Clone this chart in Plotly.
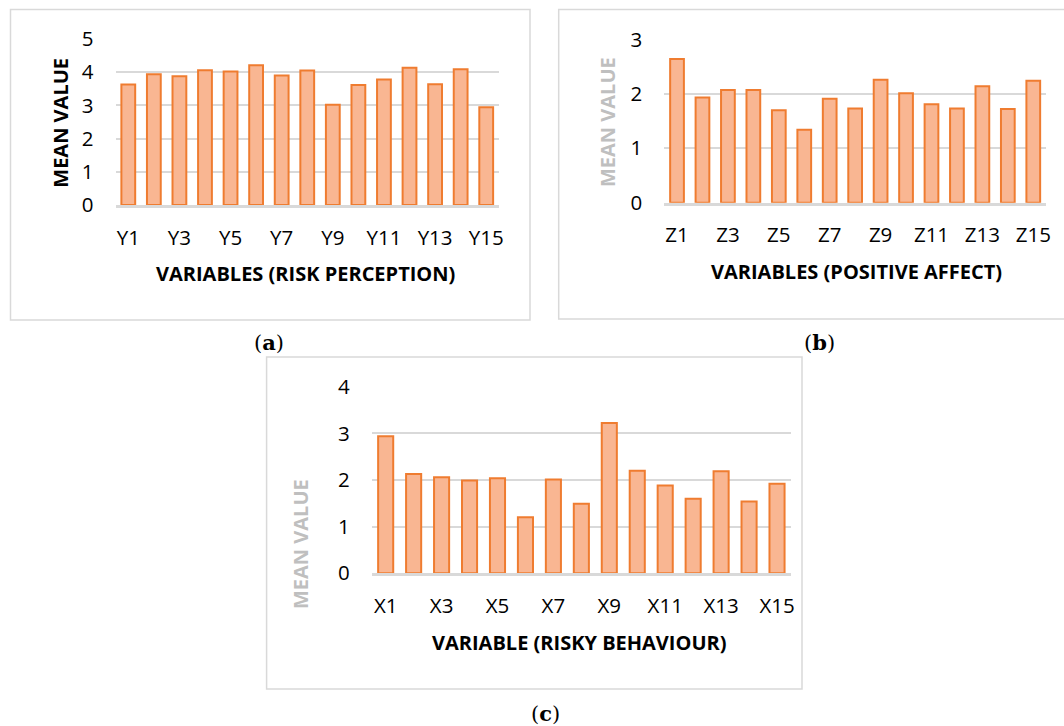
import plotly.graph_objects as go

# ---------------- data ----------------
risk_vars = ["Y1", "Y2", "Y3", "Y4", "Y5", "Y6", "Y7", "Y8", "Y9", "Y10", "Y11", "Y12", "Y13", "Y14", "Y15"]
risk_means = [3.63, 3.94, 3.88, 4.06, 4.02, 4.21, 3.90, 4.05, 3.02, 3.61, 3.78, 4.13, 3.64, 4.09, 2.94]
risk_ticks = ["Y1", "Y3", "Y5", "Y7", "Y9", "Y11", "Y13", "Y15"]

affect_vars = ["Z1", "Z2", "Z3", "Z4", "Z5", "Z6", "Z7", "Z8", "Z9", "Z10", "Z11", "Z12", "Z13", "Z14", "Z15"]
affect_means = [2.64, 1.93, 2.07, 2.07, 1.70, 1.34, 1.91, 1.73, 2.26, 2.01, 1.81, 1.73, 2.14, 1.72, 2.24]
affect_ticks = ["Z1", "Z3", "Z5", "Z7", "Z9", "Z11", "Z13", "Z15"]

behav_vars = ["X1", "X2", "X3", "X4", "X5", "X6", "X7", "X8", "X9", "X10", "X11", "X12", "X13", "X14", "X15"]
behav_means = [2.94, 2.13, 2.06, 1.99, 2.04, 1.20, 2.01, 1.49, 3.22, 2.20, 1.88, 1.60, 2.19, 1.54, 1.92]
behav_ticks = ["X1", "X3", "X5", "X7", "X9", "X11", "X13", "X15"]

# ---------------- style ----------------
W, H = 1064, 726
FILL = "#f9b692"
EDGE = "#ef7c30"
GRID = "#d9d9d9"
FONT = "Open Sans"
TICK_SIZE = 20.5
TITLE_SIZE = 20


def fx(x):
    return x / W


def fy(y):
    return 1 - y / H


fig = go.Figure()
for vars_, means, xa, ya in [
    (risk_vars, risk_means, "x", "y"),
    (affect_vars, affect_means, "x2", "y2"),
    (behav_vars, behav_means, "x3", "y3"),
]:
    fig.add_trace(go.Bar(
        x=vars_, y=means, xaxis=xa, yaxis=ya,
        marker=dict(color=FILL, line=dict(color=EDGE, width=2)),
        hoverinfo="x+y", showlegend=False,
    ))


def xaxis(dom, anchor, ticks):
    return dict(
        domain=[fx(dom[0]), fx(dom[1])], anchor=anchor, type="category",
        tickmode="array", tickvals=ticks, ticktext=ticks,
        showgrid=False, zeroline=False,
        showline=True, linecolor=GRID, linewidth=3,
        ticks="", ticklabelstandoff=12,
        tickfont=dict(family=FONT, size=TICK_SIZE, color="#000000"),
    )


def yaxis(dom, anchor, top):
    return dict(
        domain=[fy(dom[1]), fy(dom[0])], anchor=anchor,
        range=[0, top * 1.004], tick0=0, dtick=1,
        showgrid=True, gridcolor=GRID, gridwidth=1.5,
        zeroline=False, showline=False, ticks="", ticklabelstandoff=21,
        tickfont=dict(family=FONT, size=TICK_SIZE, color="#000000"),
    )


fig.update_layout(
    width=W, height=H,
    margin=dict(l=0, r=0, t=0, b=0, autoexpand=False),
    paper_bgcolor="white", plot_bgcolor="white",
    bargap=0.46,
    xaxis=xaxis((115.5, 499), "y", risk_ticks),
    yaxis=yaxis((38.3, 205), "x", 5),
    xaxis2=xaxis((664.3, 1046), "y2", affect_ticks),
    yaxis2=yaxis((38.7, 202.7), "x2", 3),
    xaxis3=xaxis((371.7, 791), "y3", behav_ticks),
    yaxis3=yaxis((386, 573.3), "x3", 4),
)

# panel frames
frames = [(10.5, 9.5, 530, 320), (558.7, 9.5, 1080, 319), (266.6, 357, 802, 689)]
for x0, y0, x1, y1 in frames:
    fig.add_shape(type="rect", xref="paper", yref="paper",
                  x0=fx(x0), x1=fx(x1), y0=fy(y1), y1=fy(y0),
                  line=dict(color=GRID, width=1.5), fillcolor="rgba(0,0,0,0)", layer="below")

ann = []


def add_text(text, x, y, size, color="#000000", angle=0, family=FONT):
    ann.append(dict(text=text, x=fx(x), y=fy(y), xref="paper", yref="paper",
                    xanchor="center", yanchor="middle", showarrow=False,
                    textangle=angle, font=dict(family=family, size=size, color=color)))


add_text("<b>VARIABLES (RISK PERCEPTION)</b>", 305, 273, TITLE_SIZE)
add_text("<b>VARIABLES (POSITIVE AFFECT)</b>", 856, 271.5, TITLE_SIZE)
add_text("<b>VARIABLE (RISKY BEHAVIOUR)</b>", 579, 642, TITLE_SIZE)
add_text("<b>MEAN VALUE</b>", 59.7, 123, TITLE_SIZE, angle=-90)
add_text("<b>MEAN VALUE</b>", 607, 122, TITLE_SIZE, color="#bfbfbf", angle=-90)
add_text("<b>MEAN VALUE</b>", 300, 544, TITLE_SIZE, color="#bfbfbf", angle=-90)
add_text("(<b>a</b>)", 269, 343, 21, family="DejaVu Serif")
add_text("(<b>b</b>)", 819, 343, 21, family="DejaVu Serif")
add_text("(<b>c</b>)", 545, 713, 21, family="DejaVu Serif")
fig.update_layout(annotations=ann)

# remove the default 8px page margin so the figure fills the window exactly
fig.write_html(
    "out.html",
    config={"displayModeBar": False},
    post_script="document.body.style.margin='0';document.body.style.overflow='hidden';",
)
